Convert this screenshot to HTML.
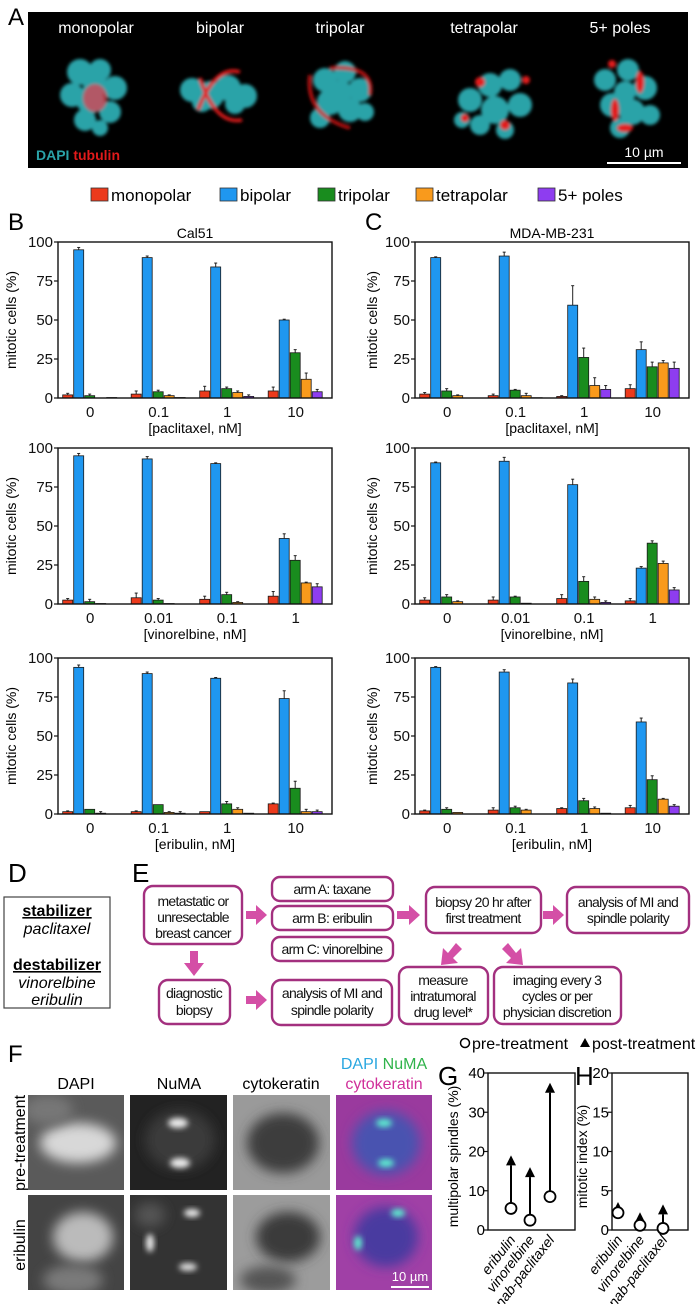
<!DOCTYPE html>
<html><head><meta charset="utf-8">
<style>
html,body{margin:0;padding:0;background:#fff;}
svg{display:block;font-family:"Liberation Sans",Arial,sans-serif;}
.fc{fill:#fff;stroke:#a3307f;stroke-width:2.4;}
.ft{font-size:14px;letter-spacing:-0.7px;fill:#111;text-anchor:middle;}
.tick{font-size:15px;fill:#111;}
</style></head>
<body>
<svg id="fig" width="696" height="1304" viewBox="0 0 696 1304" xmlns="http://www.w3.org/2000/svg">
<defs>
<filter id="bl" x="-50%" y="-50%" width="200%" height="200%"><feGaussianBlur stdDeviation="3"/></filter>
<filter id="bl2" x="-50%" y="-50%" width="200%" height="200%"><feGaussianBlur stdDeviation="6"/></filter>
<filter id="bl1" x="-50%" y="-50%" width="200%" height="200%"><feGaussianBlur stdDeviation="1.5"/></filter>
</defs>

<!-- Panel A -->
<text x="8" y="25" font-size="24">A</text>
<rect x="28" y="12" width="660" height="156" fill="#000"/>
<g fill="#fff" font-size="16" text-anchor="middle">
<text x="96" y="33">monopolar</text><text x="220" y="33">bipolar</text><text x="340" y="33">tripolar</text><text x="484" y="33">tetrapolar</text><text x="620" y="33">5+ poles</text>
</g>
<g filter="url(#bl1)">
<g fill="#2aa3a8"><circle cx="80" cy="72" r="13"/><circle cx="100" cy="70" r="11"/><circle cx="115" cy="88" r="12"/><circle cx="72" cy="95" r="12"/><circle cx="90" cy="100" r="14"/><circle cx="110" cy="112" r="11"/><circle cx="85" cy="120" r="11"/><circle cx="95" cy="85" r="12"/><circle cx="100" cy="128" r="8"/></g>
<ellipse cx="95" cy="98" rx="12" ry="14" fill="#e04050" opacity="0.75"/>
<g fill="#2aa3a8"><circle cx="192" cy="90" r="12"/><circle cx="210" cy="95" r="14"/><circle cx="228" cy="88" r="13"/><circle cx="245" cy="96" r="12"/><circle cx="202" cy="102" r="10"/><circle cx="235" cy="104" r="10"/></g>
<path d="M198,110 Q215,65 240,72 M200,78 Q215,125 242,120" stroke="#e21a1a" stroke-width="3.5" fill="none"/>
<g fill="#2aa3a8"><circle cx="325" cy="80" r="12"/><circle cx="345" cy="72" r="11"/><circle cx="360" cy="90" r="12"/><circle cx="330" cy="102" r="13"/><circle cx="350" cy="110" r="12"/><circle cx="320" cy="118" r="10"/><circle cx="340" cy="92" r="12"/><circle cx="365" cy="112" r="9"/></g>
<path d="M310,75 Q305,115 350,128 M330,68 Q375,65 370,95" stroke="#e21a1a" stroke-width="3.5" fill="none" opacity="0.85"/>
<g fill="#2aa3a8"><circle cx="470" cy="100" r="12"/><circle cx="490" cy="85" r="12"/><circle cx="510" cy="80" r="11"/><circle cx="520" cy="105" r="12"/><circle cx="495" cy="110" r="14"/><circle cx="480" cy="125" r="10"/><circle cx="505" cy="130" r="9"/><circle cx="462" cy="120" r="8"/></g>
<g fill="#e21a1a"><circle cx="480" cy="82" r="5"/><circle cx="526" cy="80" r="4"/><circle cx="465" cy="118" r="4"/><circle cx="505" cy="125" r="5"/></g>
<g fill="#2aa3a8"><circle cx="605" cy="80" r="11"/><circle cx="628" cy="70" r="11"/><circle cx="645" cy="88" r="12"/><circle cx="612" cy="105" r="12"/><circle cx="632" cy="112" r="13"/><circle cx="650" cy="115" r="10"/><circle cx="620" cy="128" r="10"/><circle cx="625" cy="92" r="11"/></g>
<g fill="#e21a1a"><ellipse cx="615" cy="110" rx="4" ry="11"/><ellipse cx="640" cy="82" rx="4" ry="11"/><ellipse cx="625" cy="128" rx="8" ry="4"/><circle cx="612" cy="64" r="4"/></g>
</g>
<text x="36" y="160" font-size="14" font-weight="bold"><tspan fill="#2aa3a8">DAPI </tspan><tspan fill="#e21a1a">tubulin</tspan></text>
<line x1="607" y1="163" x2="681" y2="163" stroke="#fff" stroke-width="2"/>
<text x="644" y="157" font-size="14" fill="#fff" text-anchor="middle">10 µm</text>

<!-- Legend -->
<g id="legend" font-size="17"></g>

<g id="charts"></g>

<!-- Panel D -->
<text x="8" y="882" font-size="26">D</text>
<rect x="4" y="897" width="106" height="111" fill="#fff" stroke="#444" stroke-width="1.2"/>
<g font-size="16" text-anchor="middle">
<text x="57" y="916" font-weight="bold" text-decoration="underline">stabilizer</text>
<text x="57" y="934" font-style="italic">paclitaxel</text>
<text x="57" y="970" font-weight="bold" text-decoration="underline">destabilizer</text>
<text x="57" y="988" font-style="italic">vinorelbine</text>
<text x="57" y="1005" font-style="italic">eribulin</text>
</g>

<!-- Panel E flowchart -->
<text x="132" y="882" font-size="26">E</text>
<g>
<rect class="fc" x="144" y="886" width="98" height="58" rx="9"/>
<text class="ft" x="193" y="906">metastatic or</text><text class="ft" x="193" y="922">unresectable</text><text class="ft" x="193" y="938">breast cancer</text>
<rect class="fc" x="272" y="877" width="121" height="24" rx="8"/><text class="ft" x="332" y="894">arm A: taxane</text>
<rect class="fc" x="272" y="906" width="121" height="24" rx="8"/><text class="ft" x="332" y="923">arm B: eribulin</text>
<rect class="fc" x="272" y="937" width="121" height="24" rx="8"/><text class="ft" x="332" y="954">arm C: vinorelbine</text>
<rect class="fc" x="426" y="887" width="115" height="46" rx="9"/><text class="ft" x="483" y="907">biopsy 20 hr after</text><text class="ft" x="483" y="923">first treatment</text>
<rect class="fc" x="567" y="887" width="122" height="46" rx="9"/><text class="ft" x="628" y="907">analysis of MI and</text><text class="ft" x="628" y="923">spindle polarity</text>
<rect class="fc" x="159" y="980" width="71" height="44" rx="9"/><text class="ft" x="194" y="998">diagnostic</text><text class="ft" x="194" y="1015">biopsy</text>
<rect class="fc" x="272" y="980" width="120" height="45" rx="9"/><text class="ft" x="332" y="998">analysis of MI and</text><text class="ft" x="332" y="1015">spindle polarity</text>
<rect class="fc" x="399" y="967" width="89" height="57" rx="9"/><text class="ft" x="443" y="985">measure</text><text class="ft" x="443" y="1001">intratumoral</text><text class="ft" x="443" y="1017">drug level*</text>
<rect class="fc" x="494" y="967" width="127" height="57" rx="9"/><text class="ft" x="557" y="985">imaging every 3</text><text class="ft" x="557" y="1001">cycles or per</text><text class="ft" x="557" y="1017">physician discretion</text>
<g fill="#d44fa6">
<path d="M246,911 h10 v-6 l11,10 l-11,10 v-6 h-10z"/>
<path d="M397,911 h12 v-6 l11,10 l-11,10 v-6 h-12z"/>
<path d="M543,911 h10 v-6 l11,10 l-11,10 v-6 h-10z"/>
<path d="M190,951 h8 v12 h6 l-10,13 l-10,-13 h6z"/>
<path d="M246,996 h10 v-6 l11,10 l-11,10 v-6 h-10z"/>
<path d="M456,943 l6,6 l-9,9 l5,5 l-17,2 l2,-17 l5,5z"/>
<path d="M508,943 l-6,6 l9,9 l-5,5 l17,2 l-2,-17 l-5,5z"/>
</g>
</g>

<!-- Panel F -->
<text x="8" y="1062" font-size="24">F</text>
<g font-size="16" text-anchor="middle">
<text x="76" y="1089">DAPI</text><text x="179" y="1089">NuMA</text><text x="281" y="1089">cytokeratin</text>
<text x="384" y="1069"><tspan fill="#2aa7e0">DAPI </tspan><tspan fill="#2fb34a">NuMA</tspan></text>
<text x="384" y="1089" fill="#d0309a">cytokeratin</text>
</g>
<text transform="translate(25,1143) rotate(-90)" font-size="16" text-anchor="middle">pre-treatment</text>
<text transform="translate(25,1245) rotate(-90)" font-size="16" text-anchor="middle">eribulin</text>
<g>
<svg x="28" y="1095" width="96" height="95"><rect width="96" height="95" fill="#5a5a5a"/><ellipse cx="50" cy="48" rx="38" ry="20" fill="#d8d8d8" filter="url(#bl2)"/><ellipse cx="20" cy="15" rx="25" ry="15" fill="#777" filter="url(#bl2)"/></svg>
<svg x="130" y="1095" width="97" height="95"><rect width="97" height="95" fill="#222"/><ellipse cx="50" cy="45" rx="35" ry="30" fill="#3a3a3a" filter="url(#bl2)"/><ellipse cx="48" cy="28" rx="10" ry="5" fill="#eee" filter="url(#bl)"/><ellipse cx="50" cy="68" rx="10" ry="5" fill="#eee" filter="url(#bl)"/></svg>
<svg x="233" y="1095" width="97" height="95"><rect width="97" height="95" fill="#9a9a9a"/><ellipse cx="50" cy="48" rx="36" ry="30" fill="#3e3e3e" filter="url(#bl2)"/></svg>
<svg x="336" y="1095" width="96" height="95"><rect width="96" height="95" fill="#9a3a9e"/><ellipse cx="50" cy="48" rx="34" ry="32" fill="#4a52b0" filter="url(#bl2)"/><ellipse cx="48" cy="28" rx="8" ry="4" fill="#5ef0d0" filter="url(#bl)"/><ellipse cx="50" cy="68" rx="8" ry="4" fill="#5ef0d0" filter="url(#bl)"/></svg>
<svg x="28" y="1195" width="96" height="95"><rect width="96" height="95" fill="#444"/><ellipse cx="55" cy="42" rx="30" ry="25" fill="#bbb" filter="url(#bl2)"/><ellipse cx="45" cy="85" rx="30" ry="15" fill="#7a7a7a" filter="url(#bl2)"/></svg>
<svg x="130" y="1195" width="97" height="95"><rect width="97" height="95" fill="#333"/><ellipse cx="20" cy="20" rx="15" ry="12" fill="#555" filter="url(#bl2)"/><ellipse cx="62" cy="18" rx="8" ry="4" fill="#eee" filter="url(#bl)"/><ellipse cx="20" cy="48" rx="4" ry="9" fill="#eee" filter="url(#bl)"/><ellipse cx="58" cy="72" rx="9" ry="4" fill="#ddd" filter="url(#bl)"/></svg>
<svg x="233" y="1195" width="97" height="95"><rect width="97" height="95" fill="#9c9c9c"/><ellipse cx="55" cy="42" rx="32" ry="25" fill="#3a3a3a" filter="url(#bl2)"/><ellipse cx="35" cy="85" rx="28" ry="14" fill="#555" filter="url(#bl2)"/></svg>
<svg x="336" y="1195" width="96" height="95"><rect width="96" height="95" fill="#a040a6"/><ellipse cx="50" cy="42" rx="32" ry="30" fill="#4a3aa0" filter="url(#bl2)"/><ellipse cx="62" cy="18" rx="7" ry="4" fill="#5ef0d0" filter="url(#bl)"/><ellipse cx="22" cy="48" rx="4" ry="7" fill="#5ef0d0" filter="url(#bl)"/></svg>
</g>
<line x1="391" y1="1287" x2="429" y2="1287" stroke="#fff" stroke-width="2"/>
<text x="410" y="1281" font-size="13" fill="#fff" text-anchor="middle">10 µm</text>

<!-- G/H legend -->
<g font-size="16">
<circle cx="465" cy="1043" r="4.5" fill="#fff" stroke="#000" stroke-width="1.5"/>
<text x="472" y="1049">pre-treatment</text>
<path d="M585,1038 L590,1047 L580,1047 Z" fill="#000"/>
<text x="592" y="1049">post-treatment</text>
</g>
<text x="438" y="1085" font-size="26">G</text>
<text x="575" y="1085" font-size="26">H</text>
<g id="gh"></g>
</svg>

<script>
const NS = 'http://www.w3.org/2000/svg';
const seriesNames = ['monopolar','bipolar','tripolar','tetrapolar','5+ poles'];
const seriesColors = ['#ec3a1c','#1f97f0','#198c1e','#f99a1c','#8e3df0'];
const yTicks = [0,25,50,75,100];

const paclitaxelDoses = ['0','0.1','1','10'];
const vinorelbineDoses = ['0','0.01','0.1','1'];
const eribulinDoses = ['0','0.1','1','10'];

const cal51Paclitaxel = [[2,95,1.5,0,0.3],[2.5,90,4,1.5,0.3],[4.5,84,6,3.5,1],[4.5,50,29,12,4]];
const cal51PaclitaxelErr = [[1,1.5,1,0,0],[2,1,1,0.5,0],[3,2.5,1,1,1],[2.5,0.5,2,4,1.5]];
const mdaPaclitaxel = [[2.5,90,4.5,1.5,0],[1.5,91,5,1.5,0.2],[1,59.5,26,8,5.5],[6,31,20,22.5,19]];
const mdaPaclitaxelErr = [[1,0.5,1.5,0.5,0],[1,2.5,0.5,1.5,0],[0.5,12.5,6,5,2.5],[2.5,5,3,1.5,4]];
const cal51Vinorelbine = [[2.5,95,1.5,0.3,0],[4,93,2.5,0.3,0],[3,90,6,1,0],[5,42,28,13.5,11]];
const cal51VinorelbineErr = [[1,1.5,1.5,0,0],[3,1.5,1,0,0],[2,0.5,1.5,0.5,0],[3,3,3,0.5,2]];
const mdaVinorelbine = [[2.5,90.5,4.5,1.5,0],[2.5,91.5,4.5,0.5,0],[3.5,76.5,14.5,3,1],[2,23,39,26,9]];
const mdaVinorelbineErr = [[1.5,0.5,1.5,0.5,0],[2,2.5,0.5,0,0],[2.5,3.5,3,1.5,1],[1.5,1,1.5,1.5,1.5]];
const cal51Eribulin = [[1.5,94,3,0.5,0],[1.5,90,6,1,0.5],[1.5,87,6.5,3,0.5],[6.5,74,16.5,1.5,1.5]];
const cal51EribulinErr = [[0.5,1.5,0,1,0],[0.5,1,0,0.5,1],[0,0.5,1.5,1,0],[0.5,5,4.5,1.5,1]];
const mdaEribulin = [[2,94,3,1,0],[2.5,91,4,2.5,0],[3.5,84,8.5,3.5,0.5],[4,59,22,9.5,5]];
const mdaEribulinErr = [[0.5,0.5,1,0,0],[1.5,1.5,1,0.5,0],[0.5,2.5,1.5,1,0],[1.5,2.5,2.5,0.5,1]];

const patientDrugs = ['eribulin','vinorelbine','nab-paclitaxel'];
const spindlePre = [5.5,2.5,8.5];
const spindlePost = [17.5,14.5,36];
const spindleTicks = [0,10,20,30,40];
const miPre = [2.2,0.6,0.2];
const miPost = [2.8,1.5,2.5];
const miTicks = [0,5,10,15,20];

function mk(tag, attrs, parent){
  const e = document.createElementNS(NS, tag);
  for (const k in attrs) e.setAttribute(k, attrs[k]);
  parent.appendChild(e);
  return e;
}

const lg = document.getElementById('legend');
const legendX = [91,220,318,416,538];
seriesNames.forEach((n,i)=>{
  const r = mk('rect',{x:legendX[i],y:188,width:17,height:13,fill:seriesColors[i],stroke:'#333','stroke-width':0.8},lg);
  
  
  const t = mk('text',{x:legendX[i]+20,y:201},lg);
  t.textContent = n;
  
  
});

const charts = document.getElementById('charts');
const panels = [
  {left:58,top:242,vals:cal51Paclitaxel,errs:cal51PaclitaxelErr,cats:paclitaxelDoses,xl:'[paclitaxel, nM]',title:'Cal51',letter:'B',ytx:16,name:'cal51-paclitaxel'},
  {left:415,top:242,vals:mdaPaclitaxel,errs:mdaPaclitaxelErr,cats:paclitaxelDoses,xl:'[paclitaxel, nM]',title:'MDA-MB-231',letter:'C',ytx:377,name:'mda-paclitaxel'},
  {left:58,top:448,vals:cal51Vinorelbine,errs:cal51VinorelbineErr,cats:vinorelbineDoses,xl:'[vinorelbine, nM]',ytx:16,name:'cal51-vinorelbine'},
  {left:415,top:448,vals:mdaVinorelbine,errs:mdaVinorelbineErr,cats:vinorelbineDoses,xl:'[vinorelbine, nM]',ytx:377,name:'mda-vinorelbine'},
  {left:58,top:658,vals:cal51Eribulin,errs:cal51EribulinErr,cats:eribulinDoses,xl:'[eribulin, nM]',ytx:16,name:'cal51-eribulin'},
  {left:415,top:658,vals:mdaEribulin,errs:mdaEribulinErr,cats:eribulinDoses,xl:'[eribulin, nM]',ytx:377,name:'mda-eribulin'}
];
const PW = 274, PH = 156;
panels.forEach(p=>{
  const g = mk('g',{},charts);
  
  
  const y = v => p.top + PH - v/100*PH;
  const band = PW / p.cats.length;
  const cx = i => p.left + band*(i+0.47);
  if (p.letter){
    const L = mk('text',{x:p.left-50,y:230,'font-size':24},g);
    L.textContent = p.letter;
    
    
    const T = mk('text',{x:p.left+PW/2,y:238,'font-size':14,'text-anchor':'middle'},g);
    T.textContent = p.title;
    
    
  }
  p.vals.forEach((grp,i)=>{
    grp.forEach((v,k)=>{
      const bx = cx(i) - 27.5 + k*11;
      const top = y(v), h = Math.max(0.01, y(0)-top);
      const e = p.errs[i][k];
      if (e > 0){
        const el = mk('line',{x1:bx+5,x2:bx+5,y1:top,y2:y(v+e),stroke:'#222','stroke-width':1},g);
        
        
        const cap = mk('line',{x1:bx+3.5,x2:bx+6.5,y1:y(v+e),y2:y(v+e),stroke:'#222','stroke-width':1},g);
        
        
      }
      const r = mk('rect',{x:bx,y:top,width:10,height:h,fill:seriesColors[k],stroke:'#1a1a1a','stroke-width':0.8},g);
      
      
    });
    const t = mk('text',{x:cx(i),y:p.top+PH+19,'text-anchor':'middle',class:'tick'},g);
    t.textContent = p.cats[i];
    
    
  });
  const fr = mk('rect',{x:p.left,y:p.top,width:PW,height:PH,fill:'none',stroke:'#111','stroke-width':1.4},g);
  
  
  yTicks.forEach(v=>{
    const tl = mk('line',{x1:p.left-4,x2:p.left,y1:y(v),y2:y(v),stroke:'#111','stroke-width':1.2},g);
    
    
    const t = mk('text',{x:p.left-5,y:y(v)+5,'text-anchor':'end',class:'tick'},g);
    t.textContent = v;
    
    
  });
  const xl = mk('text',{x:p.left+PW/2,y:p.top+PH+35,'text-anchor':'middle','font-size':14},g);
  xl.textContent = p.xl;
  
  
  const yl = mk('text',{transform:`translate(${p.ytx},${p.top+PH/2}) rotate(-90)`,'text-anchor':'middle','font-size':14},g);
  yl.textContent = 'mitotic cells (%)';
  
  
});

const gh = document.getElementById('gh');
const dots = [
  {left:488,w:87,max:40,ticks:spindleTicks,pre:spindlePre,post:spindlePost,xs:[511,530,550],yt:'multipolar spindles (%)',ytx:458,name:'multipolar'},
  {left:612,w:76,max:20,ticks:miTicks,pre:miPre,post:miPost,xs:[618,640,663],yt:'mitotic index (%)',ytx:587,name:'mitotic-index'}
];
dots.forEach(d=>{
  const top=1073, bot=1230;
  const g = mk('g',{},gh);
  
  
  const y = v => bot - v/d.max*(bot-top);
  const fr = mk('rect',{x:d.left,y:top,width:d.w,height:bot-top,fill:'none',stroke:'#111','stroke-width':1.4},g);
  
  
  d.ticks.forEach(v=>{
    const tl = mk('line',{x1:d.left-4,x2:d.left,y1:y(v),y2:y(v),stroke:'#111','stroke-width':1.2},g);
    
    
    const t = mk('text',{x:d.left-3,y:y(v)+5,'text-anchor':'end','font-size':15},g);
    t.textContent = v;
    
    
  });
  const yl = mk('text',{transform:`translate(${d.ytx},${(top+bot)/2+5}) rotate(-90)`,'text-anchor':'middle','font-size':14},g);
  yl.textContent = d.yt;
  
  
  patientDrugs.forEach((n,i)=>{
    const x = d.xs[i];
    const ln = mk('line',{x1:x,x2:x,y1:y(d.pre[i]),y2:y(d.post[i])+4,stroke:'#000','stroke-width':2},g);
    
    
    const py = y(d.post[i]);
    const tri = mk('path',{d:`M${x},${py-6} L${x+5},${py+4} L${x-5},${py+4} Z`,fill:'#000'},g);
    
    
    const c = mk('circle',{cx:x,cy:y(d.pre[i]),r:5.5,fill:'#fff',stroke:'#000','stroke-width':1.8},g);
    
    
    const t = mk('text',{transform:`translate(${x+5},${bot+10}) rotate(-52)`,'text-anchor':'end','font-size':14,'font-style':'italic'},g);
    t.textContent = n;
    
    
  });
});
</script>
</body></html>
